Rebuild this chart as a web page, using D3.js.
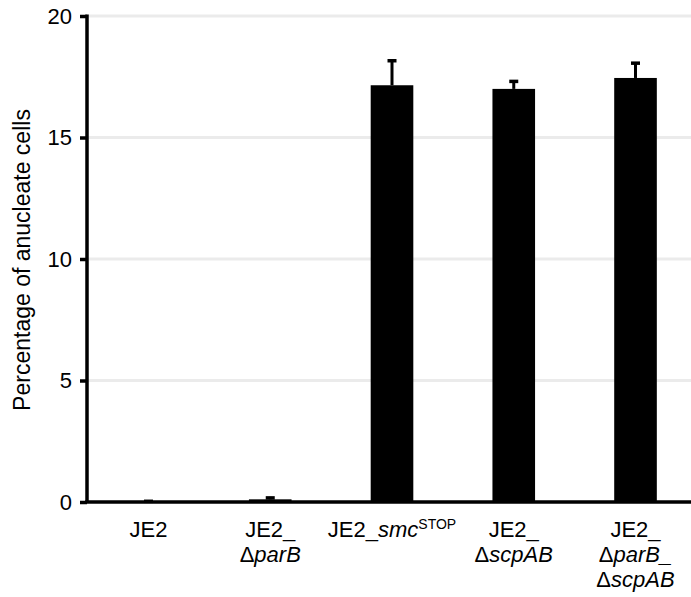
<!DOCTYPE html>
<html><head><meta charset="utf-8">
<script src="https://cdn.jsdelivr.net/npm/d3@7"></script>
<style>body{margin:0;background:#fff}svg{display:block;font-family:"Liberation Sans",Arial,sans-serif}</style>
</head><body>
<script>
const categories = ["JE2", "JE2_ΔparB", "JE2_smcSTOP", "JE2_ΔscpAB", "JE2_ΔparB_ΔscpAB"];
const means = [0.03, 0.11, 17.15, 17.0, 17.45];
const errors = [0.04, 0.1, 1.05, 0.35, 0.65];
const yTicks = [0, 5, 10, 15, 20];
// label lines: arrays of [text, style] segments
const labelLines = [
  [[["JE2",""]]],
  [[["JE2_",""]], [["Δ",""],["parB","i"]]],
  [[["JE2_",""],["smc","i"],["STOP","sup"]]],
  [[["JE2_",""]], [["Δ",""],["scpAB","i"]]],
  [[["JE2_",""]], [["Δ",""],["parB_","i"]], [["Δ",""],["scpAB","i"]]]
];

const W = 691, H = 597;
const m = {left: 87, right: 5, top: 16, bottom: 95};
const svg = d3.select("body").append("svg").attr("width", W).attr("height", H);

const x = d3.scaleBand().domain(categories).range([m.left, 697]).paddingInner(0.65).paddingOuter(0.33);
const y = d3.scaleLinear().domain([0, 20]).range([H - m.bottom, m.top]);

// gridlines
svg.append("g").selectAll("line").data(yTicks.filter(d => d > 0)).join("line")
  .attr("x1", m.left).attr("x2", W).attr("y1", d => y(d)).attr("y2", d => y(d))
  .attr("stroke", "#ebebeb").attr("stroke-width", 3);

// bars
svg.append("g").selectAll("rect").data(categories).join("rect")
  .attr("x", d => x(d)).attr("width", x.bandwidth())
  .attr("y", (d, i) => y(means[i])).attr("height", (d, i) => y(0) - y(means[i]))
  .attr("fill", "#000");

// error bars
const eg = svg.append("g").attr("stroke", "#000").attr("stroke-width", 3);
categories.forEach((c, i) => {
  const cx = x(c) + x.bandwidth() / 2;
  eg.append("line").attr("x1", cx).attr("x2", cx).attr("y1", y(means[i])).attr("y2", y(means[i] + errors[i]));
  eg.append("line").attr("x1", cx - 4.5).attr("x2", cx + 4.5).attr("y1", y(means[i] + errors[i]) + 1).attr("y2", y(means[i] + errors[i]) + 1)
    .attr("stroke-width", 3.5);
});

// y axis
const ya = svg.append("g").attr("transform", `translate(${m.left},0)`)
  .call(d3.axisLeft(y).tickValues(yTicks).tickSize(7).tickPadding(8).tickSizeOuter(0));
ya.select(".domain").attr("stroke-width", 3.5);
ya.selectAll(".tick line").attr("stroke-width", 3.5);
ya.selectAll(".tick text").attr("font-size", 22).attr("font-family", "Liberation Sans, Arial, sans-serif").attr("fill", "#000");
ya.select(".domain").attr("d", `M0,${m.top - 1.5}V${y(0)}`);

// x axis line
svg.append("line").attr("x1", m.left - 1.75).attr("x2", W).attr("y1", y(0)).attr("y2", y(0))
  .attr("stroke", "#000").attr("stroke-width", 3.5);

// x labels
categories.forEach((c, i) => {
  const cx = x(c) + x.bandwidth() / 2;
  labelLines[i].forEach((line, li) => {
    const t = svg.append("text").attr("x", cx).attr("y", 537 + li * 25.2)
      .attr("text-anchor", "middle").attr("font-size", 22).attr("fill", "#000");
    line.forEach(([s, st]) => {
      const ts = t.append("tspan").text(s);
      if (st === "i") ts.attr("font-style", "italic");
      if (st === "sup") ts.attr("font-size", 14).attr("dy", -8);
    });
  });
});

// y label
svg.append("text").attr("transform", `translate(30,260) rotate(-90)`)
  .attr("text-anchor", "middle").attr("font-size", 23).attr("fill", "#000")
  .text("Percentage of anucleate cells");
</script>
</body></html>
